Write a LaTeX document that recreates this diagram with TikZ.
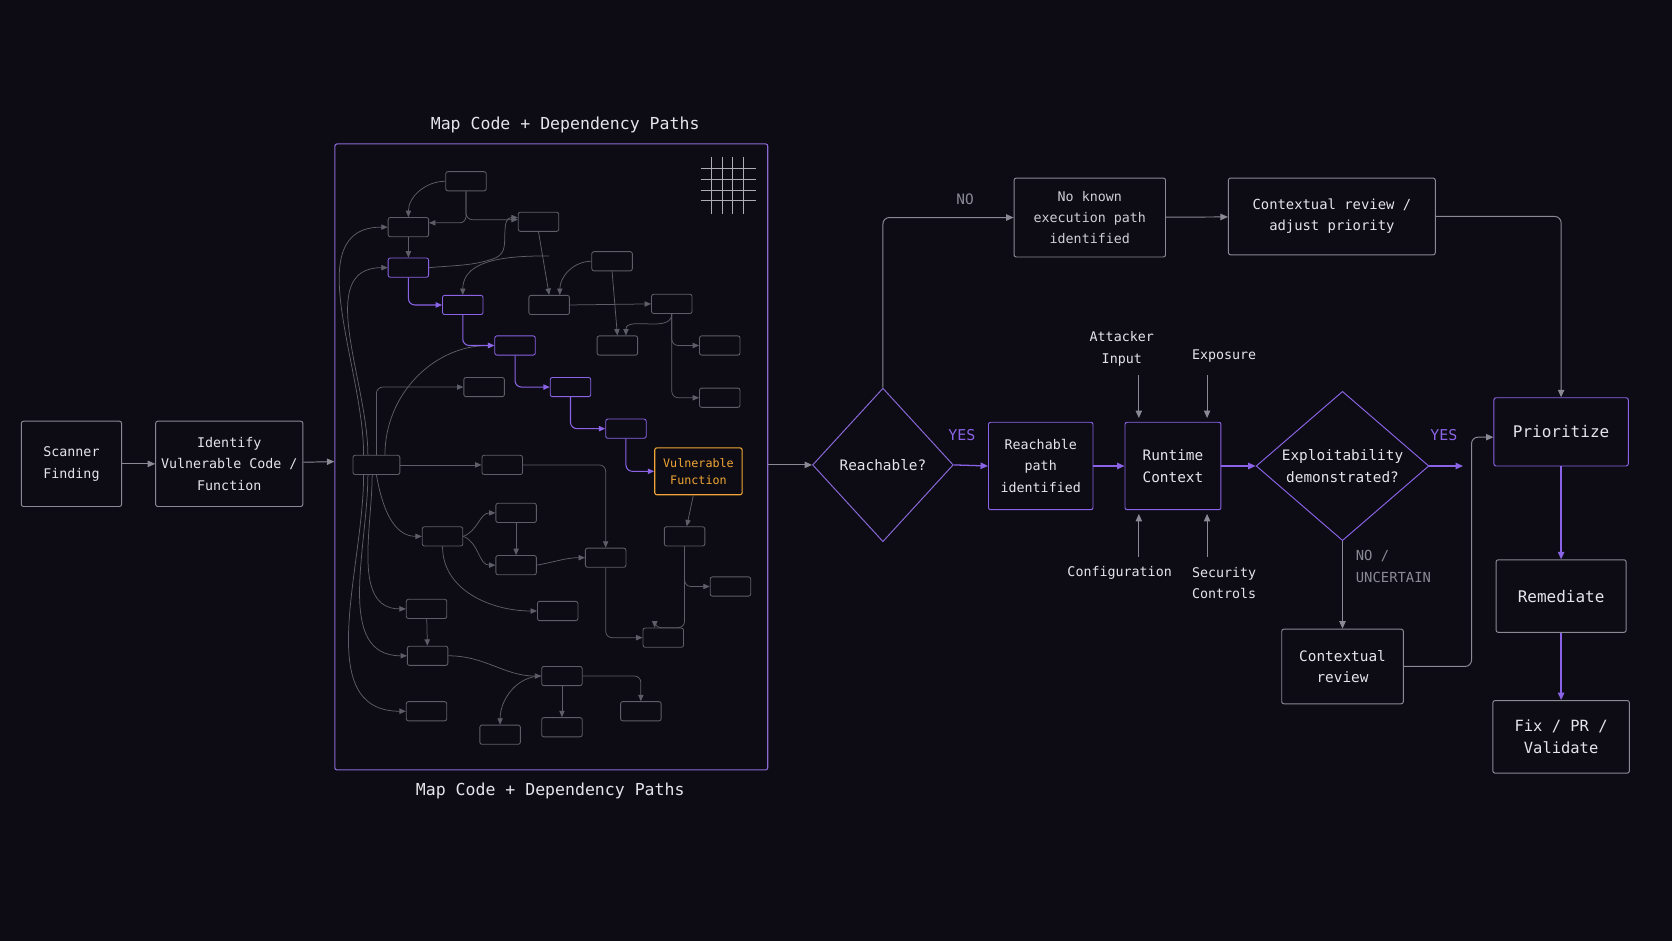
\documentclass[tikz,border=0pt]{standalone}
\usepackage{fontspec}
\setmonofont{DejaVu Sans Mono}
\usetikzlibrary{arrows.meta,shapes.geometric}
\definecolor{bg}{HTML}{0D0C14}
\definecolor{gr}{HTML}{8A8A96}
\definecolor{dg}{HTML}{5E5E68}
\definecolor{pu}{HTML}{8A63E6}
\definecolor{tx}{HTML}{E4E4EA}
\definecolor{or}{HTML}{F0A535}
\begin{document}
\begin{tikzpicture}[x=1pt,y=-1pt,font=\ttfamily\fontsize{12.5}{20}\selectfont,
 box/.style={draw=gr,line width=0.9pt,rounded corners=2pt,text=tx,align=center,fill=bg},
 pbox/.style={box,draw=pu},
 sb/.style={draw=dg,line width=0.8pt,rounded corners=2pt,minimum width=38pt,minimum height=18pt,inner sep=0pt,fill=bg},
 sp/.style={sb,draw=pu},
 ga/.style={draw=gr,line width=0.9pt,-{Triangle[length=7pt,width=6pt]}},
 pa/.style={draw=pu,line width=1.2pt,-{Triangle[length=7pt,width=6pt]}},
 ea/.style={draw=dg,line width=0.7pt,-{Triangle[length=6pt,width=5pt]},rounded corners=6pt},
 epa/.style={draw=pu,line width=1pt,-{Triangle[length=6pt,width=5pt]},rounded corners=6pt},
 lbl/.style={text=tx,align=center},
 dia/.style={diamond,draw=pu,line width=0.9pt,text=tx,align=center,aspect=0.92,inner sep=0pt}]
\fill[bg] (0,0) rectangle (1568,882);
\useasboundingbox (0,0) rectangle (1568,882);
% left boxes
\node[box,minimum width=94pt,minimum height=80pt] (scan) at (67,435) {Scanner\\Finding};
\node[box,minimum width=138pt,minimum height=80pt] (ident) at (215,435) {Identify\\Vulnerable Code /\\Function};
\node[draw=pu!80!gr,line width=1pt,rounded corners=2pt,minimum width=406pt,minimum height=587pt] (map) at (517,428.5) {};
\node[lbl,font=\ttfamily\fontsize{15.5}{18}\selectfont] (t1) at (530,117) {Map Code + Dependency Paths};
\node[lbl,font=\ttfamily\fontsize{15.5}{18}\selectfont] (t2) at (516,742) {Map Code + Dependency Paths};
% grid deco
\foreach \i in {0,1,2,3}{
 \draw[gr!70,line width=0.5pt] (667+\i*10,147) -- (667+\i*10,201);
 \draw[gr!70,line width=0.5pt] (657,158+\i*10) -- (709,158+\i*10);}
% small boxes
\foreach \n/\x/\y in {a1/437/170,a2/383/213,b1/505/208,c1/574/245,c2/515/286,c3/630/285,c4/579/324,c5/675/324,d1/454/363,c6/675/373,e2/471/436,f1/484/481,f2/415/503,f3/484/530,f4/568/523,g1/642/503,g2/685/550,g3/622/598,h1/400/571,h2/523/573,i1/401/615,i2/527/634,j1/400/667,j2/469/689,j3/527/682,j4/601/667}
 \node[sb] (\n) at (\x,\y) {};
\node[sb,minimum width=44pt] (e1) at (353,436) {};
\foreach \n/\x/\y in {p1/383/251,p2/434/286,p3/483/324,p4/535/363,p5/587/402}
 \node[sp] (\n) at (\x,\y) {};
\node[draw=or,line width=1pt,rounded corners=2pt,text=or,align=center,minimum width=82pt,minimum height=44pt,inner sep=0pt,font=\ttfamily\fontsize{11}{16}\selectfont,fill=bg] (V) at (655,442) {Vulnerable\\Function};
% graph edges
\draw[ea] (a1.west) to[out=180,in=90] (a2.north);
\draw[ea] (a1.south) |- ([yshift=2]b1.west);
\draw[ea] (a1.south) |- ([yshift=4]a2.east);
\draw[ea] (a2) -- (p1);
\draw[ea] (p1.east) to[out=5,in=200] (470,240) to[out=70,in=180] ([yshift=4]b1.west);
\draw[ea] (b1.south) -- (c2.north);
\draw[ea] (515,240) to[out=180,in=90] (p2.north);
\draw[ea] (c1.west) to[out=180,in=90] ([xshift=10]c2.north);
\draw[ea] (c1.south) -- (c4.north);
\draw[ea] (c2.east) -- (c3.west);
\draw[ea] (c3.south) to[out=-90,in=90] ([xshift=8]c4.north);
\draw[ea] (c3.south) |- (c5.west);
\draw[ea] (c3.south) |- (c6.west);
\draw[ea] (e1.north) |- (d1.west);
\draw[ea] ([xshift=8]e1.north) to[out=90,in=180] (p3.west);
\draw[ea] (e1.east) -- (e2.west);
\draw[ea] ([xshift=-12]e1.north) to[out=90,in=180] (a2.west);
\draw[ea] ([xshift=-8]e1.north) to[out=90,in=180] (p1.west);
\draw[ea] (e1.south) to[out=-80,in=180] (f2.west);
\draw[ea] ([xshift=-4]e1.south) to[out=-90,in=180] (h1.west);
\draw[ea] ([xshift=-8]e1.south) to[out=-90,in=180] (i1.west);
\draw[ea] ([xshift=-12]e1.south) to[out=-90,in=180] (j1.west);
\draw[ea] (f2.east) to[out=20,in=180] (f1.west);
\draw[ea] (f2.east) to[out=-20,in=180] (f3.west);
\draw[ea] (f1) -- (f3);
\draw[ea] (f3.east) to[out=10,in=180] (f4.west);
\draw[ea] (f2.south) to[out=-90,in=180] (h2.west);
\draw[ea] (e2.east) -| (f4.north);
\draw[ea] (f4.south) |- (g3.west);
\draw[ea] (V) -- (g1);
\draw[ea] (g1.south) |- (g2.west);
\draw[ea] (g1.south) |- ([xshift=-8]g3.north) -- ([xshift=-8]g3.north);
\draw[ea] (h1) -- (i1);
\draw[ea] (i1.east) to[out=0,in=180] (i2.west);
\draw[ea] (i2.west) to[out=180,in=90] (j2.north);
\draw[ea] (i2) -- (j3);
\draw[ea] (i2.east) -| (j4.north);
% purple path
\draw[epa] (p1.south) |- (p2.west);
\draw[epa] (p2.south) |- (p3.west);
\draw[epa] (p3.south) |- (p4.west);
\draw[epa] (p4.south) |- (p5.west);
\draw[epa] (p5.south) |- (V.west);
% right part
\node[dia,minimum width=132pt,minimum height=144pt,draw=pu!85!gr] (reach) at (828,436) {};
\node[lbl,font=\ttfamily\fontsize{13.5}{18}\selectfont] at (828,436) {Reachable?};
\node[pbox,minimum width=98pt,minimum height=82pt] (rpath) at (976,437) {Reachable\\path\\identified};
\node[pbox,minimum width=90pt,minimum height=82pt,font=\ttfamily\fontsize{13.5}{20}\selectfont] (rt) at (1100,437) {Runtime\\Context};
\node[dia,minimum width=162pt,minimum height=140pt] (expl) at (1259,437) {};
\node[lbl,font=\ttfamily\fontsize{13.5}{21}\selectfont] at (1259,437) {Exploitability\\demonstrated?};
\node[pbox,minimum width=126pt,minimum height=64pt,font=\ttfamily\fontsize{15}{18}\selectfont] (prio) at (1464,405) {Prioritize};
\node[box,minimum width=122pt,minimum height=68pt,font=\ttfamily\fontsize{15}{18}\selectfont] (rem) at (1464,559) {Remediate};
\node[box,minimum width=128pt,minimum height=68pt,font=\ttfamily\fontsize{14.5}{21}\selectfont] (fix) at (1464,691) {Fix / PR /\\Validate};
\node[box,minimum width=114pt,minimum height=70pt,font=\ttfamily\fontsize{13.5}{20}\selectfont] (crev) at (1259,625) {Contextual\\review};
\node[box,minimum width=142pt,minimum height=74pt,text=tx!75!gr] (nok) at (1022,204) {No known\\execution path\\identified};
\node[box,minimum width=194pt,minimum height=72pt,font=\ttfamily\fontsize{13}{20}\selectfont] (cadj) at (1249,203) {Contextual review /\\adjust priority};
\node[lbl,text=gr,font=\ttfamily\fontsize{13.5}{18}\selectfont] (no) at (905,187) {NO};
\node[lbl,text=pu,font=\ttfamily\fontsize{14}{18}\selectfont] (y1) at (902,408) {YES};
\node[lbl,text=pu,font=\ttfamily\fontsize{14}{18}\selectfont] (y2) at (1354,408) {YES};
\node[lbl] (att) at (1052,327) {Attacker\\Input};
\node[lbl] (exps) at (1148,334) {Exposure};
\node[lbl] (conf) at (1050,537) {Configuration};
\node[lbl] (sec) at (1148,547) {Security\\Controls};
\node[text=gr,align=left,anchor=west,font=\ttfamily\fontsize{13}{21}\selectfont] (unc) at (1268,531) {NO /\\UNCERTAIN};
\coordinate (yend) at (1372,437);
% connectors
\draw[ga] (scan) -- (ident);
\draw[ga] (ident) -- (map);
\draw[ga] (map.east |- reach) -- (reach.west);
\draw[pa] (reach.east) -- (rpath.west);
\draw[pa] (rpath) -- (rt);
\draw[pa] (rt) -- (expl.west);
\draw[pa] (expl.east) -- (yend);
\draw[ga,rounded corners=6pt] (reach.north) |- (nok.west);
\draw[ga] (nok) -- (cadj);
\draw[ga,rounded corners=6pt] (cadj.east) -| (prio.north);
\draw[ga] (expl.south) -- (crev.north);
\draw[ga,rounded corners=6pt] (crev.east) -| (1380,410) -- (prio.west |- 0,410);
\draw[pa] (prio) -- (rem);
\draw[pa] (rem) -- (fix);
\draw[ga] (1068,352) -- (1068,392);
\draw[ga] (1132,352) -- (1132,392);
\draw[ga] (1068,522) -- (1068,482);
\draw[ga] (1132,522) -- (1132,482);
\end{tikzpicture}
\end{document}
